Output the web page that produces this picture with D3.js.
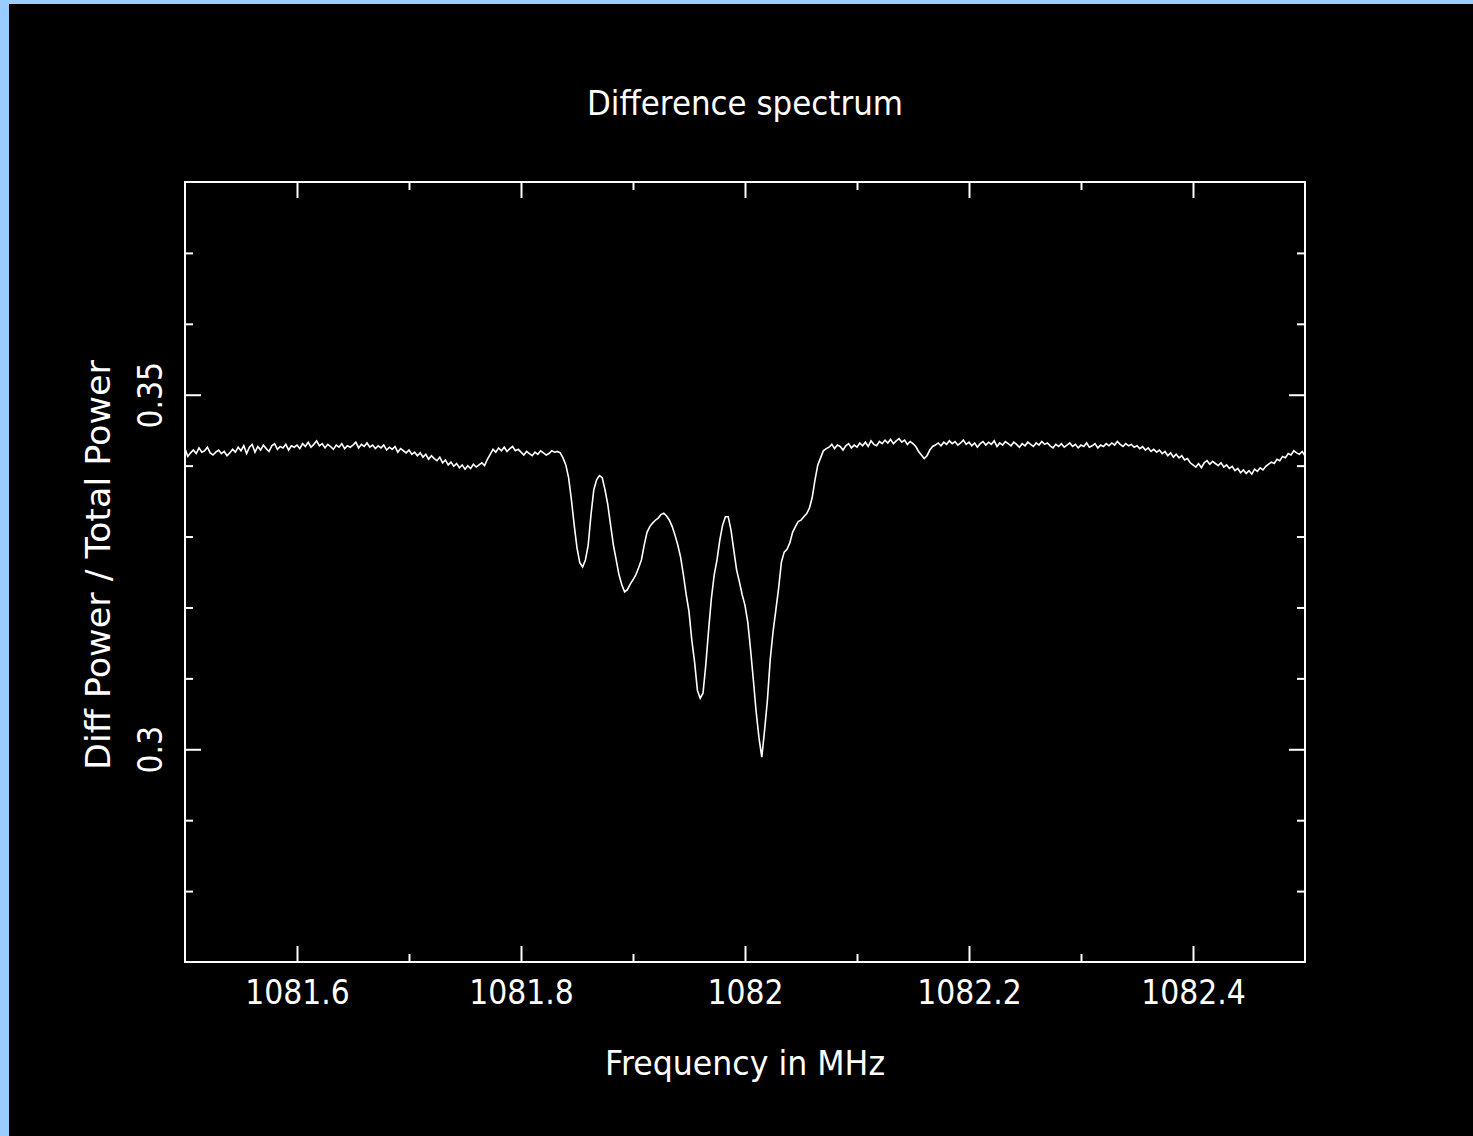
<!DOCTYPE html>
<html>
<head>
<meta charset="utf-8">
<script src="https://cdn.jsdelivr.net/npm/d3@7"></script>
<style>
  body { margin: 0; background: #99ccff; }
  svg { display: block; }
  text { font-family: "DejaVu Sans", sans-serif; fill: white; }
</style>
</head>
<body>
<svg id="chart"></svg>
<script>
// spectrum channels
const freqStart = 1081.5
const chanWidth = 0.0025

// diff power / total power, one value per channel
const diffPower = [
  0.3424, 0.3413, 0.3418, 0.3422, 0.3417, 0.3425, 0.3419, 0.3421, 0.3426, 0.3418,
  0.3415, 0.3419, 0.3422, 0.3417, 0.3420, 0.3414, 0.3418, 0.3423, 0.3419, 0.3426,
  0.3421, 0.3428, 0.3417, 0.3426, 0.3430, 0.3419, 0.3427, 0.3422, 0.3429, 0.3424,
  0.3420, 0.3428, 0.3431, 0.3423, 0.3427, 0.3425, 0.3430, 0.3422, 0.3428, 0.3426,
  0.3429, 0.3424, 0.3431, 0.3427, 0.3433, 0.3426, 0.3430, 0.3435, 0.3428, 0.3431,
  0.3425, 0.3430, 0.3427, 0.3423, 0.3429, 0.3426, 0.3431, 0.3424, 0.3428, 0.3426,
  0.3429, 0.3433, 0.3425, 0.3430, 0.3427, 0.3432, 0.3426, 0.3429, 0.3424, 0.3428,
  0.3425, 0.3429, 0.3422, 0.3426, 0.3423, 0.3427, 0.3419, 0.3424, 0.3421, 0.3418,
  0.3422, 0.3416, 0.3419, 0.3414, 0.3418, 0.3412, 0.3416, 0.3409, 0.3414, 0.3410,
  0.3407, 0.3412, 0.3404, 0.3408, 0.3401, 0.3405, 0.3399, 0.3403, 0.3397, 0.3401,
  0.3395, 0.3400, 0.3396, 0.3402, 0.3398, 0.3401, 0.3404, 0.3400, 0.3409, 0.3416,
  0.3423, 0.3419, 0.3425, 0.3421, 0.3426, 0.3420, 0.3424, 0.3427, 0.3421, 0.3423,
  0.3419, 0.3415, 0.3420, 0.3417, 0.3414, 0.3419, 0.3416, 0.3421, 0.3418, 0.3415,
  0.3417, 0.3421, 0.3419, 0.3420, 0.3418,
  // absorption features
  0.3411, 0.3401, 0.3383, 0.3352, 0.3316, 0.3284, 0.3263, 0.3257, 0.3267, 0.3288,
  0.3331, 0.3366, 0.3380, 0.3386, 0.3383, 0.3366, 0.3345, 0.3316, 0.3288, 0.3267,
  0.3246, 0.3232, 0.3222, 0.3225, 0.3233, 0.3239, 0.3246, 0.3256, 0.3267, 0.3288,
  0.3306, 0.3314, 0.3319, 0.3323, 0.3326, 0.3331, 0.3333, 0.3329, 0.3323, 0.3314,
  0.3302, 0.3288, 0.3271, 0.3246, 0.3218, 0.3194, 0.3154, 0.3123, 0.3083, 0.3072,
  0.3079, 0.3119, 0.3168, 0.3213, 0.3246, 0.3267, 0.3295, 0.3316, 0.3328, 0.3328,
  0.3309, 0.3281, 0.3253, 0.3236, 0.3218, 0.3203, 0.3179, 0.3140, 0.3097, 0.3052,
  0.3016, 0.2989, 0.3027, 0.3069, 0.3126, 0.3165, 0.3196, 0.3227, 0.3264, 0.3278,
  0.3282, 0.3291, 0.3306, 0.3314, 0.3321, 0.3323, 0.3328, 0.3332, 0.3340, 0.3355,
  0.3380, 0.3401, 0.3411, 0.3421, 0.3424,
  // back to the continuum
  0.3426, 0.3430, 0.3424, 0.3429, 0.3427, 0.3422, 0.3428, 0.3431, 0.3425, 0.3429,
  0.3426, 0.3432, 0.3428, 0.3433, 0.3427, 0.3435, 0.3430, 0.3428, 0.3434, 0.3431,
  0.3436, 0.3432, 0.3437, 0.3431, 0.3435, 0.3438, 0.3433, 0.3436, 0.3430, 0.3434, 0.3431,
  0.3427, 0.3420, 0.3415, 0.3410, 0.3414, 0.3422, 0.3427,
  0.3429, 0.3432, 0.3428, 0.3433, 0.3430, 0.3435, 0.3431, 0.3434, 0.3429, 0.3432,
  0.3436, 0.3430, 0.3433, 0.3428, 0.3432, 0.3426, 0.3431, 0.3434, 0.3429, 0.3433,
  0.3430, 0.3435, 0.3427, 0.3432, 0.3429, 0.3434, 0.3431, 0.3428, 0.3433, 0.3430,
  0.3426, 0.3431, 0.3428, 0.3433, 0.3430, 0.3427, 0.3432, 0.3429, 0.3434, 0.3430,
  0.3432, 0.3428, 0.3425, 0.3430, 0.3427, 0.3431, 0.3426, 0.3429, 0.3432, 0.3427,
  0.3430, 0.3425, 0.3429, 0.3427, 0.3432, 0.3426, 0.3428, 0.3431, 0.3425, 0.3429,
  0.3427, 0.3431, 0.3428, 0.3432, 0.3429, 0.3434, 0.3430, 0.3427, 0.3431, 0.3428,
  0.3430, 0.3426, 0.3428, 0.3424, 0.3427, 0.3422, 0.3425, 0.3420, 0.3423, 0.3419,
  0.3422, 0.3417, 0.3420, 0.3414, 0.3418, 0.3412, 0.3416, 0.3411, 0.3414, 0.3408,
  0.3410, 0.3404, 0.3401, 0.3398, 0.3403, 0.3397, 0.3404, 0.3407, 0.3402, 0.3406,
  0.3403, 0.3400, 0.3404, 0.3398, 0.3401, 0.3396, 0.3399, 0.3393, 0.3396, 0.3390,
  0.3394, 0.3389, 0.3393, 0.3388, 0.3395, 0.3392, 0.3397, 0.3394, 0.3399, 0.3402,
  0.3405, 0.3403, 0.3409, 0.3407, 0.3413, 0.3411, 0.3417, 0.3415, 0.3421, 0.3418,
  0.3416, 0.3420, 0.3414
]

// axis ticks
const xMajorTicks = [1081.6, 1081.8, 1082, 1082.2, 1082.4]
const xMinorTicks = [1081.7, 1081.9, 1082.1, 1082.3]
const yMajorTicks = [0.3, 0.35]
const yMinorTicks = [0.28, 0.29, 0.31, 0.32, 0.33, 0.34, 0.36, 0.37]

const titleText = "Difference spectrum"
const xLabelText = "Frequency in MHz"
const yLabelText = "Diff Power / Total Power"

const width = 1473
const height = 1136
const plotLeft = 185, plotRight = 1305, plotTop = 182, plotBottom = 962

const data = diffPower.map((v, i) => ({x: freqStart + i * chanWidth, y: v}))

const svg = d3.select("#chart")
    .attr("width", width)
    .attr("height", height)

// light blue border, black canvas
svg.append("rect")
    .attr("x", 9).attr("y", 4)
    .attr("width", width - 9).attr("height", height - 4)
    .style("fill", "black")

// scales
const xScale = d3.scaleLinear().domain([1081.5, 1082.5]).range([plotLeft, plotRight])
const yScale = d3.scaleLinear().domain([0.27, 0.38]).range([plotBottom, plotTop])

const styleAxis = g => {
    g.select(".domain").remove()
    g.selectAll("line").style("stroke", "white").style("stroke-width", 2)
}

const squeeze = (factor) => function() {
    const l = this.getComputedTextLength()
    d3.select(this).attr("textLength", l * factor).attr("lengthAdjust", "spacingAndGlyphs")
}

// major + minor ticks on all four sides, pointing inward
const xFmt = d => String(+d.toFixed(1))
svg.append("g").attr("transform", `translate(0, ${plotBottom})`)
    .call(d3.axisBottom(xScale).tickValues(xMajorTicks).tickSize(-16).tickSizeOuter(0).tickPadding(18).tickFormat(xFmt))
    .call(styleAxis)
    .call(g => g.selectAll("text")
        .style("font-family", "DejaVu Sans").style("font-size", "34px").style("fill", "white")
        .each(squeeze(0.88)))
svg.append("g").attr("transform", `translate(0, ${plotBottom})`)
    .call(d3.axisBottom(xScale).tickValues(xMinorTicks).tickSize(-8).tickSizeOuter(0).tickFormat(""))
    .call(styleAxis)
svg.append("g").attr("transform", `translate(0, ${plotTop})`)
    .call(d3.axisTop(xScale).tickValues(xMajorTicks).tickSize(-16).tickSizeOuter(0).tickFormat(""))
    .call(styleAxis)
svg.append("g").attr("transform", `translate(0, ${plotTop})`)
    .call(d3.axisTop(xScale).tickValues(xMinorTicks).tickSize(-8).tickSizeOuter(0).tickFormat(""))
    .call(styleAxis)

svg.append("g").attr("transform", `translate(${plotLeft}, 0)`)
    .call(d3.axisLeft(yScale).tickValues(yMajorTicks).tickSize(-16).tickSizeOuter(0).tickFormat(d => String(d)))
    .call(styleAxis)
    .call(g => g.selectAll("text")
        .attr("x", null).attr("dy", null)
        .attr("text-anchor", "middle")
        .attr("transform", "translate(-23, 0) rotate(-90)")
        .style("font-family", "DejaVu Sans").style("font-size", "34px").style("fill", "white")
        .each(squeeze(0.88)))
svg.append("g").attr("transform", `translate(${plotLeft}, 0)`)
    .call(d3.axisLeft(yScale).tickValues(yMinorTicks).tickSize(-8).tickSizeOuter(0).tickFormat(""))
    .call(styleAxis)
svg.append("g").attr("transform", `translate(${plotRight}, 0)`)
    .call(d3.axisRight(yScale).tickValues(yMajorTicks).tickSize(-16).tickSizeOuter(0).tickFormat(""))
    .call(styleAxis)
svg.append("g").attr("transform", `translate(${plotRight}, 0)`)
    .call(d3.axisRight(yScale).tickValues(yMinorTicks).tickSize(-8).tickSizeOuter(0).tickFormat(""))
    .call(styleAxis)

// frame
svg.append("rect")
    .attr("x", plotLeft).attr("y", plotTop)
    .attr("width", plotRight - plotLeft).attr("height", plotBottom - plotTop)
    .style("fill", "none")
    .style("stroke", "white")
    .style("stroke-width", 2)

// spectrum line
const line = d3.line().x(d => xScale(d.x)).y(d => yScale(d.y))
svg.append("path")
    .datum(data)
    .attr("d", line)
    .style("fill", "none")
    .style("stroke", "white")
    .style("stroke-width", 1.6)

// titles
svg.append("text")
    .attr("x", 745).attr("y", 115)
    .attr("text-anchor", "middle")
    .attr("textLength", 316).attr("lengthAdjust", "spacingAndGlyphs")
    .style("font-size", "34px")
    .text(titleText)
svg.append("text")
    .attr("x", 745).attr("y", 1075)
    .attr("text-anchor", "middle")
    .attr("textLength", 280).attr("lengthAdjust", "spacingAndGlyphs")
    .style("font-size", "34px")
    .text(xLabelText)
svg.append("text")
    .attr("text-anchor", "middle")
    .attr("transform", "translate(110, 565) rotate(-90)")
    .attr("textLength", 410).attr("lengthAdjust", "spacingAndGlyphs")
    .style("font-size", "34px")
    .text(yLabelText)
</script>
</body>
</html>
